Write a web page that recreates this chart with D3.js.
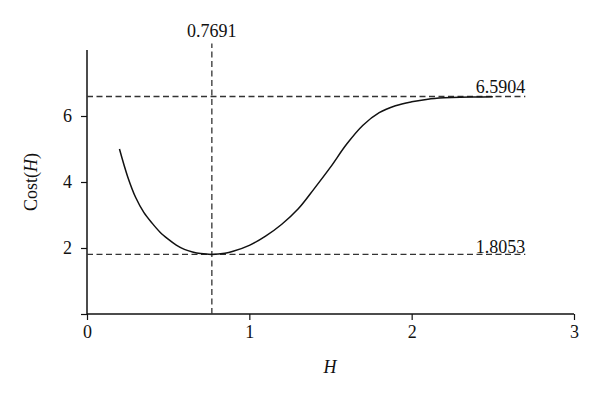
<!DOCTYPE html>
<html>
<head>
<meta charset="utf-8">
<script src="https://cdn.jsdelivr.net/npm/d3@7"></script>
<style>
  body { margin: 0; background: #fff; }
  svg { display: block; }
  text { font-family: "Liberation Serif", "DejaVu Serif", serif; fill: #111; }
</style>
</head>
<body>
<div class="chart"></div>
<script>
(function() {

    // curve
    var hValues = [0.2, 0.25, 0.3, 0.35, 0.4, 0.45, 0.5, 0.55, 0.6, 0.65, 0.7, 0.7691, 0.85, 0.9, 1.0, 1.1, 1.2, 1.3, 1.4, 1.5, 1.6, 1.7, 1.8, 1.9, 2.0, 2.1, 2.2, 2.3, 2.4, 2.5];
    var costValues = [5.0, 4.17, 3.53, 3.08, 2.76, 2.48, 2.27, 2.09, 1.96, 1.88, 1.83, 1.8053, 1.84, 1.9, 2.08, 2.36, 2.72, 3.18, 3.8, 4.45, 5.15, 5.72, 6.1, 6.31, 6.43, 6.51, 6.55, 6.57, 6.575, 6.58];

    var xTicks = [0, 1, 2, 3];
    var yTicks = [0, 2, 4, 6];

    // reference lines: min point and max plateau
    var minH = 0.7691;
    var minCost = 1.8053;
    var maxCost = 6.5904;
    var refLineEnd = 2.7;
    var vLineTop = 8.2;

    var width = 600, height = 399;

    var svg = d3.select(".chart").append("svg")
        .attr("width", width)
        .attr("height", height);

    var x = d3.scaleLinear().domain([0, 3]).range([87, 574]);
    var y = d3.scaleLinear().domain([0, 8]).range([314, 50]);

    var xAxis = d3.axisBottom(x)
        .tickValues(xTicks)
        .tickFormat(d3.format("d"))
        .tickSizeOuter(0)
        .tickSize(6)
        .tickPadding(5);

    var yAxis = d3.axisLeft(y)
        .tickValues(yTicks)
        .tickSizeOuter(0)
        .tickSize(6)
        .tickPadding(9)
        .tickFormat(function(d) { return d === 0 ? "" : d; });

    var gx = svg.append("g")
        .attr("transform", "translate(0," + y(0) + ")")
        .call(xAxis);

    var gy = svg.append("g")
        .attr("transform", "translate(" + x(0) + ",0)")
        .call(yAxis);

    [gx, gy].forEach(function(g) {
        g.attr("font-size", null).attr("font-family", null);
        g.select(".domain").remove();
        g.selectAll(".tick line").attr("stroke", "#111").attr("stroke-width", 1.2);
        g.selectAll(".tick text")
            .attr("fill", "#111")
            .style("font-size", "18px")
            .style("font-family", "'Liberation Serif', serif");
    });

    // axis lines, y goes up to 8 (top of plot)
    svg.append("line")
        .attr("x1", x(0)).attr("x2", x(3))
        .attr("y1", y(0)).attr("y2", y(0))
        .attr("stroke", "#111").attr("stroke-width", 1.5);
    svg.append("line")
        .attr("x1", x(0)).attr("x2", x(0))
        .attr("y1", y(0)).attr("y2", y(8))
        .attr("stroke", "#111").attr("stroke-width", 1.5);

    // dashed reference lines
    var dash = "6,3.5";
    svg.append("line")
        .attr("x1", x(0)).attr("x2", x(refLineEnd))
        .attr("y1", y(maxCost)).attr("y2", y(maxCost))
        .attr("stroke", "#333").attr("stroke-width", 1.3)
        .attr("stroke-dasharray", dash);
    svg.append("line")
        .attr("x1", x(0)).attr("x2", x(refLineEnd))
        .attr("y1", y(minCost)).attr("y2", y(minCost))
        .attr("stroke", "#333").attr("stroke-width", 1.3)
        .attr("stroke-dasharray", dash);
    svg.append("line")
        .attr("x1", x(minH)).attr("x2", x(minH))
        .attr("y1", y(0)).attr("y2", y(vLineTop))
        .attr("stroke", "#333").attr("stroke-width", 1.3)
        .attr("stroke-dasharray", dash);

    // the cost curve
    var points = hValues.map(function(h, i) { return [h, costValues[i]]; });
    var line = d3.line()
        .x(function(d) { return x(d[0]); })
        .y(function(d) { return y(d[1]); })
        .curve(d3.curveCatmullRom.alpha(0.5));

    svg.append("path")
        .datum(points)
        .attr("d", line)
        .attr("fill", "none")
        .attr("stroke", "#111")
        .attr("stroke-width", 1.5);

    // value labels
    svg.append("text")
        .attr("x", x(minH))
        .attr("y", 37)
        .attr("text-anchor", "middle")
        .style("font-size", "18px")
        .text(minH.toFixed(4));

    svg.append("text")
        .attr("x", x(refLineEnd))
        .attr("y", y(maxCost) - 4)
        .attr("text-anchor", "end")
        .style("font-size", "18px")
        .text(maxCost.toFixed(4));

    svg.append("text")
        .attr("x", x(refLineEnd))
        .attr("y", y(minCost) - 1)
        .attr("text-anchor", "end")
        .style("font-size", "18px")
        .text(minCost.toFixed(4));

    // axis titles
    var xt = svg.append("text")
        .attr("x", 330)
        .attr("y", 373)
        .attr("text-anchor", "middle")
        .style("font-size", "18px");
    xt.append("tspan").style("font-style", "italic").text("H");

    var yt = svg.append("text")
        .attr("transform", "translate(37," + y(4) + ") rotate(-90)")
        .attr("text-anchor", "middle")
        .style("font-size", "18px");
    yt.append("tspan").text("Cost(");
    yt.append("tspan").style("font-style", "italic").text("H");
    yt.append("tspan").text(")");

})();
</script>
</body>
</html>
